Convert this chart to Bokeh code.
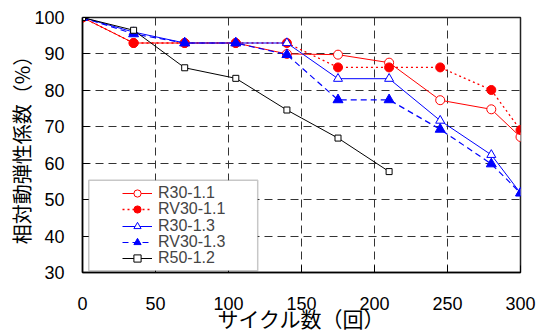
from bokeh.plotting import figure
from bokeh.models import (Legend, LegendItem, BoxAnnotation, FixedTicker, Range1d)
from bokeh.embed import file_html
from bokeh.resources import INLINE

cycles = [0, 35, 70, 105, 140, 175, 210, 245, 280, 300]
r30_11 = [100, 93, 93, 93, 90, 89.8, 87.6, 77.3, 74.8, 67.2]
rv30_11 = [100, 93, 93, 93, 93, 86.3, 86.3, 86.3, 80.1, 69.1]
r30_13 = [100, 96, 93, 93, 93, 83.2, 83.2, 71.7, 62.3, 51.8]
rv30_13 = [100, 95.5, 93, 93, 89.8, 77.4, 77.4, 69.3, 59.8, 51.8]
cycles_r50 = [0, 35, 70, 105, 140, 175, 210]
r50_12 = [100, 96.5, 86.2, 83.3, 74.6, 66.9, 57.7]
series_labels = ["R30-1.1", "RV30-1.1", "R30-1.3", "RV30-1.3", "R50-1.2"]

x_ticks = [0, 50, 100, 150, 200, 250, 300]
y_ticks = [30, 40, 50, 60, 70, 80, 90, 100]

p = figure(width=543, height=336, output_backend="svg", toolbar_location=None,
           x_range=Range1d(0, 300), y_range=Range1d(30, 100),
           min_border_left=82, min_border_right=23, min_border_top=17, min_border_bottom=64)

p.background_fill_color = "white"
p.border_fill_color = "white"
p.outline_line_color = "#222222"
p.outline_line_width = 1.5

p.xaxis.ticker = FixedTicker(ticks=x_ticks)
p.yaxis.ticker = FixedTicker(ticks=y_ticks)
for ax in (p.xaxis[0], p.yaxis[0]):
    ax.major_tick_in = 7
    ax.major_tick_out = 0
    ax.minor_tick_line_color = None
    ax.axis_line_color = "black"
    ax.axis_line_width = 1.5
    ax.major_tick_line_color = "black"
    ax.major_label_text_font = "Liberation Sans"
    ax.major_label_text_font_size = "18px"
    ax.major_label_text_color = "black"
    ax.axis_label_text_font = "Noto Sans CJK JP"
    ax.axis_label_text_font_style = "normal"
    ax.axis_label_text_color = "black"

p.xaxis.major_label_standoff = 24
p.yaxis.major_label_standoff = 18
p.xaxis.axis_label = "サイクル数（回）"
p.yaxis.axis_label = "相対動弾性係数（%）"
p.xaxis.axis_label_text_font_size = "21px"
p.yaxis.axis_label_text_font_size = "20px"
p.xaxis.axis_label_standoff = -10
p.yaxis.axis_label_standoff = -5

p.grid.grid_line_color = "#333333"
p.grid.grid_line_dash = "8 5"
p.grid.grid_line_width = 1
p.xgrid.ticker = FixedTicker(ticks=x_ticks)
p.ygrid.ticker = FixedTicker(ticks=y_ticks)

l1 = p.line(cycles, r30_11, line_color="red", line_width=1)
m1 = p.scatter(cycles, r30_11, marker="circle", size=9, line_color="red", fill_color="white", line_width=1)
l2 = p.line(cycles, rv30_11, line_color="red", line_width=1.3, line_dash="2 3")
m2 = p.scatter(cycles, rv30_11, marker="circle", size=9, line_color="red", fill_color="red")
l3 = p.line(cycles, r30_13, line_color="blue", line_width=1)
m3 = p.scatter(cycles, r30_13, marker="triangle", size=9, line_color="blue", fill_color="white", line_width=1)
l4 = p.line(cycles, rv30_13, line_color="blue", line_width=1.2, line_dash="6 4")
m4 = p.scatter(cycles, rv30_13, marker="triangle", size=10, line_color="blue", fill_color="blue")
l5 = p.line(cycles_r50, r50_12, line_color="black", line_width=1)
m5 = p.scatter(cycles_r50, r50_12, marker="square", size=6, line_color="black", fill_color="white", line_width=1)

box = BoxAnnotation(left=4.3, right=120, bottom=30.5, top=55.3,
                    fill_color="white", fill_alpha=1.0,
                    line_color="#444444", line_width=1.5)
p.add_layout(box)

renderer_pairs = [[l1, m1], [l2, m2], [l3, m3], [l4, m4], [l5, m5]]
n = len(series_labels)
row_step = 16.3
for i, (lab, rends) in enumerate(zip(series_labels, renderer_pairs)):
    center_from_bottom = 13.7 + (n - 1 - i) * row_step
    lg = Legend(items=[LegendItem(label=lab, renderers=rends)],
                location=(40, int(round(center_from_bottom - 9))), padding=0, spacing=0, margin=0,
                glyph_width=30, glyph_height=18, label_height=18, label_standoff=6,
                label_text_font="Liberation Sans", label_text_font_size="16px",
                border_line_color=None, background_fill_alpha=0)
    p.add_layout(lg, "center")

open("out.html", "w").write(file_html(p, INLINE))
